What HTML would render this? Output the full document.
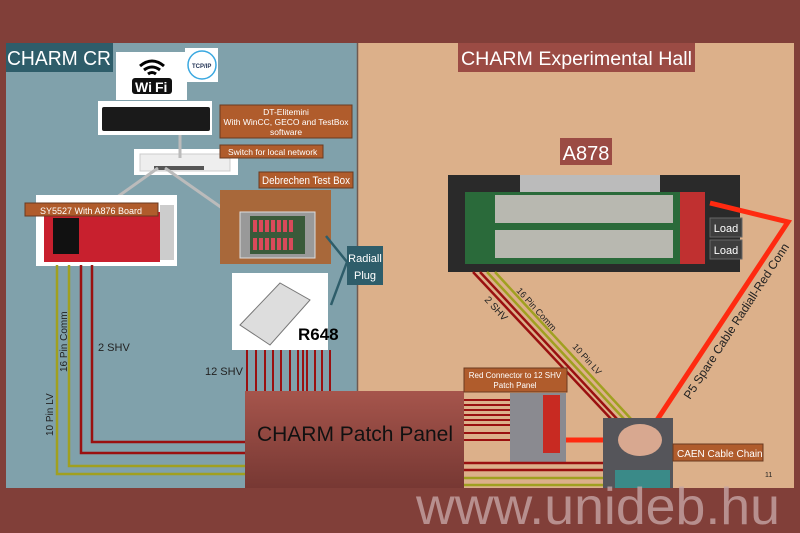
<!DOCTYPE html>
<html><head><meta charset="utf-8"><style>
body{margin:0;width:800px;height:533px;overflow:hidden;background:#813f39;font-family:"Liberation Sans",sans-serif;}
svg{position:absolute;left:0;top:0}
</style></head><body>
<svg width="800" height="533" viewBox="0 0 800 533" xmlns="http://www.w3.org/2000/svg" font-family="Liberation Sans, sans-serif">
<defs>
<linearGradient id="pp" x1="0" y1="0" x2="0" y2="1"><stop offset="0" stop-color="#a6554c"/><stop offset="1" stop-color="#773833"/></linearGradient>
</defs>
<rect x="0" y="0" width="800" height="533" fill="#813f39"/>
<rect x="6" y="43" width="351" height="445" fill="#80a1ab"/>
<rect x="357" y="43" width="437" height="445" fill="#dcb08a"/>
<line x1="357.5" y1="43" x2="357.5" y2="488" stroke="#6f5a50" stroke-width="1.5"/>
<!-- CHARM CR -->
<rect x="6" y="43" width="107" height="29" fill="#2e5d6a"/>
<text x="7" y="65" font-size="20" fill="#fff" textLength="104" lengthAdjust="spacingAndGlyphs">CHARM CR</text>
<!-- wifi -->
<rect x="116" y="52" width="71" height="48" fill="#fff"/>
<path d="M140 66 q12 -10 24 0 M144 70 q8 -6 16 0 M148 74 q4 -3 8 0" stroke="#000" stroke-width="3" fill="none"/>
<rect x="132" y="78" width="40" height="16" rx="3" fill="#111"/>
<text x="135" y="92" font-size="14" font-weight="bold" fill="#fff">Wi</text><text x="155" y="92" font-size="14" font-weight="bold" fill="#fff">Fi</text>
<rect x="185" y="48" width="33" height="34" fill="#fff"/>
<circle cx="202" cy="65" r="14" fill="none" stroke="#3aa8e0" stroke-width="1.5"/>
<text x="192" y="68" font-size="6" font-weight="bold" fill="#235">TCP/IP</text>
<!-- PC -->
<rect x="98" y="101" width="114" height="34" fill="#fff"/>
<rect x="102" y="107" width="108" height="24" rx="2" fill="#1a1a1a"/>
<!-- DT label -->
<rect x="220" y="105" width="132" height="33" fill="#b05c2c" stroke="#6a3a20"/>
<text font-size="8.5" fill="#fff" text-anchor="middle"><tspan x="286" y="115">DT-Elitemini</tspan><tspan x="286" y="125">With WinCC, GECO and TestBox</tspan><tspan x="286" y="135">software</tspan></text>
<!-- switch -->
<rect x="134" y="149" width="104" height="26" fill="#fff"/>
<rect x="140" y="154" width="90" height="17" fill="#eee" stroke="#ccc"/>
<rect x="154" y="166" width="50" height="4" fill="#555"/>
<line x1="180" y1="135" x2="180" y2="158" stroke="#bbb" stroke-width="3"/>
<rect x="220" y="145" width="103" height="13" fill="#b05c2c" stroke="#6a3a20"/>
<text x="228" y="155" font-size="8.5" fill="#fff">Switch for local network</text>
<!-- gray lines -->
<line x1="158" y1="168" x2="113" y2="200" stroke="#bbb" stroke-width="3"/>
<line x1="165" y1="168" x2="242" y2="222" stroke="#bbb" stroke-width="3"/>
<!-- Debrechen -->
<rect x="259" y="172" width="94" height="16" fill="#b05c2c" stroke="#6a3a20"/>
<text x="262" y="184" font-size="11" fill="#fff" textLength="88" lengthAdjust="spacingAndGlyphs">Debrechen Test Box</text>
<rect x="220" y="190" width="111" height="74" fill="#a8683a"/>
<rect x="240" y="212" width="75" height="46" fill="#999" stroke="#ddd"/>
<rect x="250" y="216" width="55" height="38" fill="#3a5a3a"/>
<g fill="#d94a5a"><rect x="253" y="220" width="4" height="12"/><rect x="259" y="220" width="4" height="12"/><rect x="265" y="220" width="4" height="12"/><rect x="271" y="220" width="4" height="12"/><rect x="277" y="220" width="4" height="12"/><rect x="283" y="220" width="4" height="12"/><rect x="289" y="220" width="4" height="12"/><rect x="253" y="238" width="4" height="12"/><rect x="259" y="238" width="4" height="12"/><rect x="265" y="238" width="4" height="12"/><rect x="271" y="238" width="4" height="12"/><rect x="277" y="238" width="4" height="12"/><rect x="283" y="238" width="4" height="12"/><rect x="289" y="238" width="4" height="12"/></g>
<!-- SY5527 -->
<rect x="36" y="195" width="141" height="71" fill="#fff"/>
<rect x="44" y="212" width="116" height="50" fill="#c8202e"/>
<rect x="53" y="218" width="26" height="36" fill="#111"/>
<rect x="160" y="205" width="14" height="55" fill="#ccc"/>
<rect x="25" y="203" width="133" height="13" fill="#b05c2c" stroke="#6a3a20"/>
<text x="91" y="214" font-size="9" fill="#fff" text-anchor="middle">SY5527 With A876 Board</text>
<!-- radiall -->
<polyline points="326,236 347,262 331,305" fill="none" stroke="#2e5d6a" stroke-width="2.5"/>
<rect x="347" y="246" width="36" height="39" fill="#2e5d6a"/>
<text font-size="11" fill="#fff" text-anchor="middle"><tspan x="365" y="262">Radiall</tspan><tspan x="365" y="279">Plug</tspan></text>
<!-- R648 -->
<rect x="232" y="273" width="96" height="77" fill="#fff"/>
<polygon points="240,325 280,283 310,300 270,345" fill="#ddd" stroke="#777"/>
<text x="298" y="340" font-size="17" font-weight="bold" fill="#000">R648</text>
<!-- 12 SHV lines -->
<g stroke="#9a1010" stroke-width="2"><line x1="247" y1="350" x2="247" y2="400"/><line x1="256" y1="350" x2="256" y2="400"/><line x1="265" y1="350" x2="265" y2="400"/><line x1="273" y1="350" x2="273" y2="400"/><line x1="281" y1="350" x2="281" y2="400"/><line x1="290" y1="350" x2="290" y2="400"/><line x1="298" y1="350" x2="298" y2="400"/><line x1="303" y1="350" x2="303" y2="400"/><line x1="307" y1="350" x2="307" y2="400"/><line x1="315" y1="350" x2="315" y2="400"/><line x1="322" y1="350" x2="322" y2="400"/><line x1="330" y1="350" x2="330" y2="400"/></g>
<text x="205" y="375" font-size="11" fill="#222">12 SHV</text>
<!-- left cables -->
<polyline points="57,265 57,474 247,474" fill="none" stroke="#a0a020" stroke-width="2.5"/>
<polyline points="69,265 69,466 247,466" fill="none" stroke="#a0a020" stroke-width="2.5"/>
<polyline points="81,265 81,453 247,453" fill="none" stroke="#9a1010" stroke-width="2.5"/>
<polyline points="92,265 92,442 247,442" fill="none" stroke="#9a1010" stroke-width="2.5"/>
<text transform="translate(53,436) rotate(-90)" font-size="10" fill="#222">10 Pin LV</text>
<text transform="translate(67,372) rotate(-90)" font-size="10" fill="#222">16 Pin Comm</text>
<text x="98" y="351" font-size="11" fill="#222">2 SHV</text>
<!-- patch panel -->
<rect x="245" y="391" width="219" height="97" fill="url(#pp)"/>
<text x="355" y="441" font-size="21" fill="#111" text-anchor="middle">CHARM Patch Panel</text>
<!-- A878 -->
<rect x="560" y="138" width="52" height="27" fill="#9b4b44"/>
<text x="586" y="160" font-size="20" fill="#fff" text-anchor="middle">A878</text>
<rect x="448" y="175" width="292" height="97" fill="#2a2a2a"/>
<rect x="520" y="175" width="140" height="20" fill="#bbb"/>
<rect x="465" y="192" width="215" height="72" fill="#2a6a3a"/>
<rect x="495" y="195" width="178" height="28" fill="#b8b8b0"/>
<rect x="495" y="230" width="178" height="28" fill="#b8b8b0"/>
<rect x="680" y="192" width="25" height="72" fill="#c03030"/>
<rect x="710" y="218" width="32" height="19" fill="#3e3e3e" stroke="#666"/>
<text x="726" y="232" font-size="11" fill="#fff" text-anchor="middle">Load</text>
<rect x="710" y="240" width="32" height="19" fill="#3e3e3e" stroke="#666"/>
<text x="726" y="254" font-size="11" fill="#fff" text-anchor="middle">Load</text>
<!-- CHARM Experimental Hall -->
<rect x="458" y="43" width="237" height="29" fill="#9b4b44"/>
<text x="461" y="65" font-size="19" fill="#fff" textLength="231" lengthAdjust="spacingAndGlyphs">CHARM Experimental Hall</text>
<!-- diagonal cables -->
<g stroke-width="2.5"><line x1="473" y1="272" x2="612" y2="420" stroke="#9a1010"/><line x1="480" y1="272" x2="618" y2="420" stroke="#9a1010"/><line x1="487" y1="272" x2="625" y2="420" stroke="#a0a020"/><line x1="495" y1="272" x2="632" y2="420" stroke="#a0a020"/></g>
<text transform="translate(484,300) rotate(48)" font-size="10" fill="#222">2 SHV</text>
<text transform="translate(516,291) rotate(48)" font-size="9" fill="#222">16 Pin Comm</text>
<text transform="translate(572,347) rotate(48)" font-size="9" fill="#222">10 Pin LV</text>
<!-- P5 -->
<polyline points="710,203 788,222 657,420" fill="none" stroke="#ff2a10" stroke-width="5"/>
<text transform="translate(690,400) rotate(-57)" font-size="12" fill="#222">P5 Spare Cable Radiall-Red Conn</text>
<!-- red connector -->
<g stroke="#9a1010" stroke-width="2"><line x1="464" y1="400" x2="510" y2="400"/><line x1="464" y1="405" x2="510" y2="405"/><line x1="464" y1="410" x2="510" y2="410"/><line x1="464" y1="415" x2="510" y2="415"/><line x1="464" y1="420" x2="510" y2="420"/><line x1="464" y1="425" x2="510" y2="425"/><line x1="464" y1="433" x2="510" y2="433"/><line x1="464" y1="440" x2="510" y2="440"/></g>
<rect x="510" y="393" width="56" height="70" fill="#8a8a90"/>
<rect x="543" y="395" width="17" height="58" fill="#c82a22"/>
<rect x="464" y="368" width="103" height="24" fill="#b05c2c" stroke="#6a3a20"/>
<text font-size="8" fill="#fff" text-anchor="middle"><tspan x="515" y="378">Red Connector to 12 SHV</tspan><tspan x="515" y="388">Patch Panel</tspan></text>
<line x1="566" y1="440" x2="606" y2="440" stroke="#ff2a10" stroke-width="5"/>
<g stroke-width="2.5"><line x1="464" y1="463" x2="603" y2="463" stroke="#9a1010"/><line x1="464" y1="470" x2="603" y2="470" stroke="#9a1010"/><line x1="464" y1="478" x2="603" y2="478" stroke="#a0a020"/><line x1="464" y1="485" x2="603" y2="485" stroke="#a0a020"/></g>
<!-- CAEN -->
<rect x="603" y="418" width="70" height="70" fill="#55555a"/>
<ellipse cx="640" cy="440" rx="22" ry="16" fill="#d8a890"/>
<rect x="615" y="470" width="55" height="18" fill="#3a8a88"/>
<rect x="673" y="444" width="90" height="17" fill="#b05c2c" stroke="#6a3a20"/>
<text x="677" y="457" font-size="10" fill="#fff">CAEN Cable Chain</text>
<text x="765" y="477" font-size="7" fill="#222">11</text>
<!-- watermark -->
<text x="416" y="524" font-size="52" fill="#c4a4a4" fill-opacity="0.8" textLength="364" lengthAdjust="spacingAndGlyphs">www.unideb.hu</text>
</svg>
</body></html>
